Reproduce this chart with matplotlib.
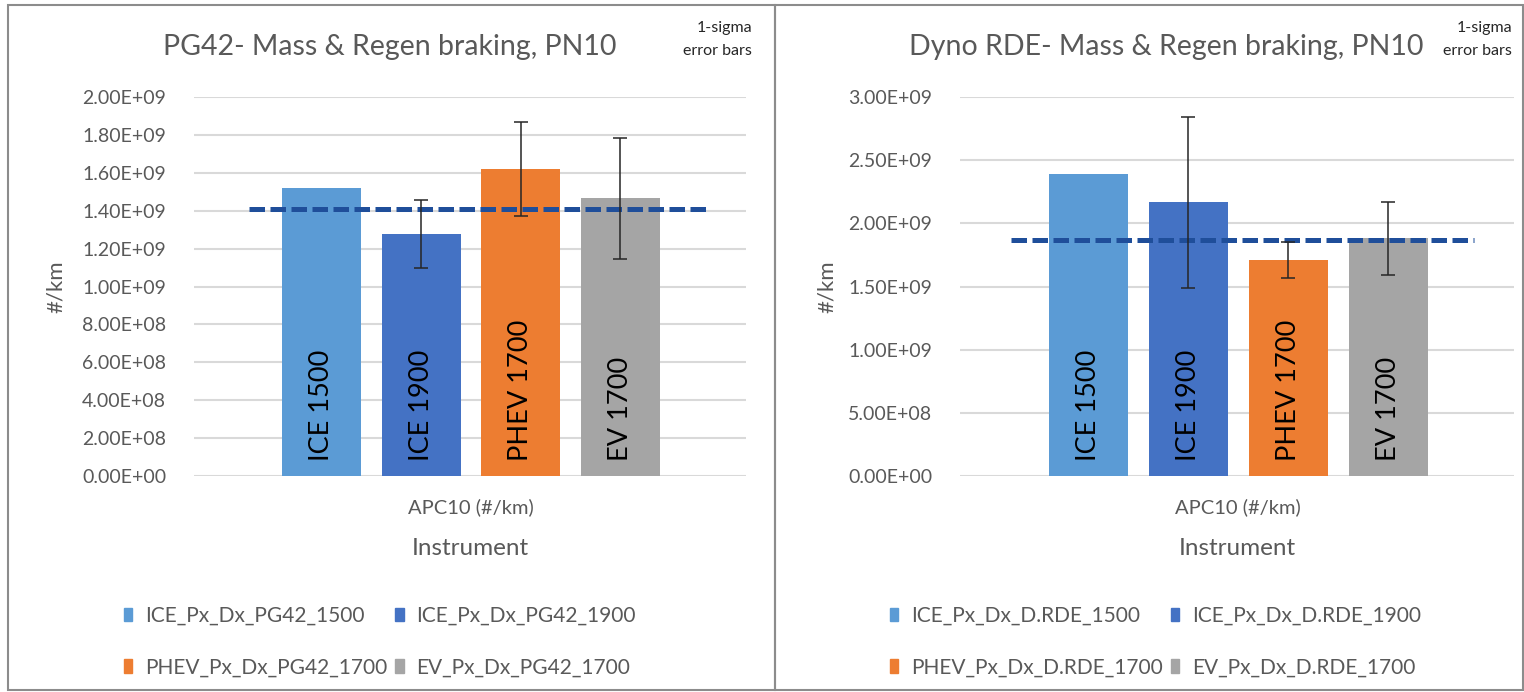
import matplotlib.pyplot as plt
from matplotlib.patches import Patch, Rectangle

plt.rcParams['font.family'] = ['Lato', 'DejaVu Sans']

# data
vehicles = ['ICE 1500', 'ICE 1900', 'PHEV 1700', 'EV 1700']
colors = ['#5B9BD5', '#4472C4', '#ED7D31', '#A5A5A5']

pg42_vals = [1.52e9, 1.275e9, 1.62e9, 1.465e9]
pg42_err = [0, 0.18e9, 0.25e9, 0.32e9]
pg42_ref = 1.41e9
pg42_legend = ['ICE_Px_Dx_PG42_1500', 'ICE_Px_Dx_PG42_1900',
               'PHEV_Px_Dx_PG42_1700', 'EV_Px_Dx_PG42_1700']

rde_vals = [2.39e9, 2.165e9, 1.71e9, 1.88e9]
rde_err = [0, 0.68e9, 0.145e9, 0.29e9]
rde_ref = 1.87e9
rde_legend = ['ICE_Px_Dx_D.RDE_1500', 'ICE_Px_Dx_D.RDE_1900',
              'PHEV_Px_Dx_D.RDE_1700', 'EV_Px_Dx_D.RDE_1700']

W, H = 1524, 692
fig = plt.figure(figsize=(W / 100, H / 100), dpi=100)

# panel frames
for x0, x1 in [(8, 775), (775, 1523)]:
    fig.add_artist(Rectangle((x0 / W, 1 - 690 / H), (x1 - x0) / W, (690 - 5) / H,
                             transform=fig.transFigure, fill=False,
                             edgecolor='#8C8C8C', linewidth=1.5))

grey = '#595959'


def panel(left_px, right_px, vals, err, ref, ymax, ystep, title, title_x,
          legend_labels, legend_x, ylab_x, ref_span, note_x):
    ax = fig.add_axes([left_px / W, 1 - 476 / H, (right_px - left_px) / W, (476 - 97) / H])
    x = list(range(len(vals)))
    ax.bar(x, vals, width=0.79, color=colors, zorder=2)
    ax.errorbar(x[1:], vals[1:], yerr=err[1:], fmt='none', ecolor='#262626',
                elinewidth=1.1, capsize=5, capthick=1.1, zorder=4)
    ax.plot(ref_span, [ref, ref], color='#1F4E9A', linewidth=3.6,
            dashes=(3.1, 1.1), zorder=3)
    for xi, name in zip(x, vehicles):
        ax.annotate(name, (xi, 0), xytext=(0, 15), textcoords='offset pixels',
                    rotation=90, ha='center', va='bottom', fontsize=19.5,
                    color='black', zorder=5)
    ax.set_ylim(0, ymax)
    ticks = [i * ystep for i in range(int(round(ymax / ystep)) + 1)]
    ax.set_yticks(ticks)
    ax.set_yticklabels(['%.2E' % t for t in ticks])
    ax.set_xlim(-1.28, 4.26)
    ax.set_xticks([1.5])
    ax.set_xticklabels(['APC10 (#/km)'])
    ax.tick_params(axis='both', length=0, colors=grey, labelsize=14)
    ax.tick_params(axis='x', pad=16, labelsize=14.5)
    ax.tick_params(axis='y', pad=20)
    ax.set_xlabel('Instrument', color=grey, fontsize=17.5, labelpad=16)
    ax.set_ylabel('#/km', color=grey, fontsize=16)
    ax.yaxis.set_label_coords((ylab_x - left_px) / (right_px - left_px), 0.5)
    for s in ax.spines.values():
        s.set_visible(False)
    ax.grid(axis='y', color='#D9D9D9', linewidth=1.5, zorder=0)
    ax.set_axisbelow(True)

    fig.text(title_x / W, 1 - 47 / H, title, ha='center', va='center',
             fontsize=20.5, color=grey)
    fig.text(note_x / W, 1 - 28 / H, '1-sigma', ha='right', va='center',
             fontsize=11.5, color='#262626')
    fig.text(note_x / W, 1 - 51 / H, 'error bars', ha='right', va='center',
             fontsize=11.5, color='#262626')

    handles = [Patch(color=c) for c in colors]
    order = [0, 2, 1, 3]
    ax.legend([handles[i] for i in order], [legend_labels[i] for i in order],
              ncol=2, loc='upper left', bbox_to_anchor=(legend_x / W, 1 - 606 / H),
              bbox_transform=fig.transFigure, frameon=False, fontsize=15,
              labelcolor=grey, handlelength=0.4, handleheight=0.6,
              handletextpad=0.6, columnspacing=0.4, labelspacing=1.5,
              borderpad=0, borderaxespad=0)
    return ax


panel(194, 746, pg42_vals, pg42_err, pg42_ref, 2.0e9, 0.2e9,
      'PG42- Mass & Regen braking, PN10', 390, pg42_legend, 124, 66, [-0.73, 3.91], 752)
panel(960, 1514, rde_vals, rde_err, rde_ref, 3.0e9, 0.5e9,
      'Dyno RDE- Mass & Regen braking, PN10', 1166, rde_legend, 890, 837, [-0.77, 3.86], 1512)

fig.savefig('out.png', dpi=100)
